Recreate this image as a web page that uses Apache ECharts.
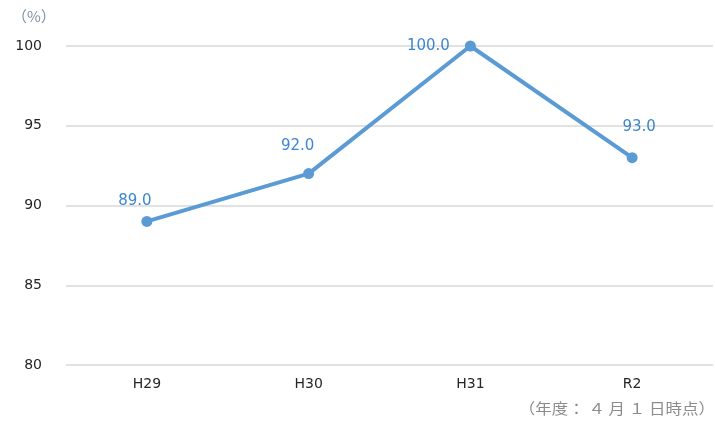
<!DOCTYPE html>
<html>
<head>
<meta charset="utf-8">
<script src="https://cdn.jsdelivr.net/npm/echarts@6/dist/echarts.min.js"></script>
<style>
html,body{margin:0;padding:0;background:#fff;}
#chart{width:715px;height:421px;}
</style>
</head>
<body>
<div id="chart"></div>
<script>
// Fiscal years (as of April 1)
const categories = ['H29', 'H30', 'H31', 'R2'];
// Rate (%)
const rates = [89.0, 92.0, 100.0, 93.0];
// Label offsets around each point [dx, dy]
const labelOffsets = [[-12, -20], [-11, -27], [-42, 0], [7, -31]];

const chart = echarts.init(document.getElementById('chart'));
const blue = '#5B9BD5';
const numFont = '"DejaVu Sans", Verdana, sans-serif';
const jpFont = '"Noto Sans CJK JP", "Noto Sans", sans-serif';

chart.setOption({
  backgroundColor: '#fff',
  animation: false,
  grid: { left: 66, right: 2, top: 46, bottom: 56 },
  xAxis: {
    type: 'category',
    data: categories,
    boundaryGap: true,
    axisLine: { show: false },
    axisTick: { show: false },
    axisLabel: { color: '#262626', fontSize: 14, fontFamily: numFont, margin: 12 }
  },
  yAxis: {
    type: 'value',
    min: 80, max: 100, interval: 5,
    axisLine: { show: false },
    axisTick: { show: false },
    splitLine: { lineStyle: { color: '#d9d9d9', width: 1.5 } },
    axisLabel: { color: '#262626', fontSize: 14, fontFamily: numFont, margin: 24 }
  },
  graphic: [
    { type: 'text', left: 12, top: 9,
      style: { text: '（%）', fill: '#7f8fa6', fontSize: 15, fontFamily: jpFont } },
    { type: 'text', right: 0, top: 401, scaleX: 1.1, originX: 713,
      style: { text: '（年度： ４ 月 １ 日時点）', fill: '#8c8c8c', fontSize: 15, fontFamily: jpFont } }
  ],
  series: [{
    type: 'line',
    data: rates.map((v, i) => ({
      value: v,
      label: { offset: labelOffsets[i] }
    })),
    symbol: 'circle',
    symbolSize: 11,
    lineStyle: { color: blue, width: 4 },
    itemStyle: { color: blue },
    label: {
      show: true,
      position: 'inside',
      color: '#3a86cf',
      fontSize: 15,
      fontFamily: numFont,
      formatter: p => p.value.toFixed(1)
    }
  }]
});
</script>
</body>
</html>
